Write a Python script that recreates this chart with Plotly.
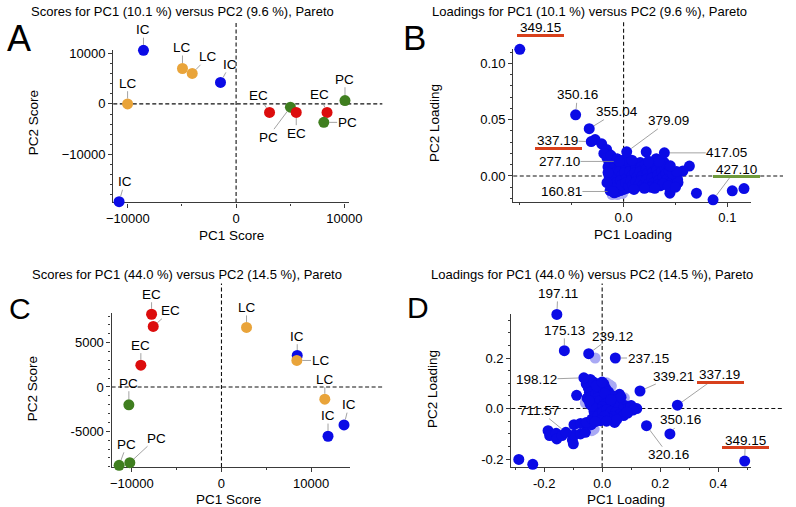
import plotly.graph_objects as go

W, H = 796, 507
FONT = "Liberation Sans, Arial, Helvetica, sans-serif"

# ---------------- data ----------------
group_colors = {"IC": "#0b0be6", "LC": "#e9a43a", "EC": "#dc0d0d", "PC": "#3f7e1f"}

# Panel A: scores PC1 (10.1 %) vs PC2 (9.6 %)
a_group = ["IC", "LC", "LC", "IC", "LC", "IC", "EC", "PC", "EC", "EC", "PC", "PC"]
a_x = [-8559, -4955, -4054, -1441, -10027, -10811, 3090, 5018, 5559, 8405, 8108, 10063]
a_y = [10619, 7021, 6037, 4267, 0, -19390, -1691, -649, -1691, -1691, -3658, 669]
a_xticks = [-10000, 0, 10000]
a_xticklabels = ["\u221210000", "0", "10000"]
a_yticks = [-10000, 0, 10000]
a_yticklabels = ["\u221210000", "0", "10000"]

# Panel C: scores PC1 (44.0 %) vs PC2 (14.5 %)
c_group = ["EC", "EC", "EC", "PC", "PC", "PC", "LC", "IC", "LC", "LC", "IC", "IC"]
c_x = [-7793, -7609, -8989, -10326, -11413, -10217, 2793, 8446, 8402, 11522, 13663, 11880]
c_y = [8199, 6823, 2461, -2013, -8837, -8535, 6711, 3546, 2987, -1376, -4284, -5559]
c_xticks = [-10000, 0, 10000]
c_xticklabels = ["\u221210000", "0", "10000"]
c_yticks = [-5000, 0, 5000]
c_yticklabels = ["-5000", "0", "5000"]

# Panel B: loadings PC1 (10.1 %) vs PC2 (9.6 %)
b_lab_text = ["349.15", "350.16", "355.04", "337.19", "379.09", "417.05", "427.10", "277.10", "160.81"]
b_lab_x = [-0.1000, -0.0462, -0.0331, -0.0312, 0.0030, 0.0393, 0.0862, -0.0042, -0.0102]
b_lab_y = [0.1125, 0.0543, 0.0420, 0.0305, 0.0214, 0.0205, -0.0212, 0.0129, -0.0138]
b_x = [-0.0274, -0.0211, -0.0164, -0.0133, -0.0190, -0.0110,
       0.0218, 0.0315, 0.0634, 0.0571, 0.0446, 0.0524, 0.0446, 0.0702, 0.1047, 0.1160,
       0.0352, 0.0399, 0.0289, 0.0352,
       -0.016, -0.014, -0.015, -0.013, -0.014, -0.013, -0.012, -0.011, -0.009, -0.006,
       -0.003, 0.000, 0.003, -0.010, -0.008, -0.009, -0.008, -0.009, -0.007, -0.007,
       -0.004, -0.003, -0.004, -0.002, -0.003, -0.002, 0.001, 0.002, 0.001, 0.003,
       0.002, 0.005, 0.006, 0.007, 0.006, 0.008, 0.007, 0.009, 0.011, 0.012,
       0.011, 0.013, 0.012, 0.014, 0.016, 0.017, 0.016, 0.018, 0.017, 0.019,
       0.021, 0.022, 0.023, 0.022, 0.024, 0.026, 0.027, 0.028, 0.027, 0.029,
       0.031, 0.032, 0.033, 0.034, 0.036, 0.037, 0.038, 0.040, 0.041, 0.042,
       0.044, 0.046, 0.049, 0.052, 0.033, 0.026, 0.038, -0.012, -0.006, 0.004,
       0.043, 0.047, 0.051, 0.039, 0.030, 0.020, 0.010, -0.015, -0.016, -0.013,
       0.045, 0.050, 0.034, 0.024, -0.006, 0.000, 0.008]
b_y = [0.0323, 0.0285, 0.0235, 0.0190, 0.0200, 0.0160,
       0.0214, 0.0153, 0.0088, 0.0044, 0.0073, -0.0059, -0.0153, -0.0153, -0.0132, -0.0112,
       0.0058, 0.0000, -0.0044, -0.0088,
       0.016, 0.012, 0.008, 0.004, 0.000, -0.004, -0.008, -0.012, -0.015, -0.014,
       -0.013, -0.012, -0.011, 0.014, 0.011, 0.007, 0.003, -0.002, -0.006, -0.010,
       0.012, 0.008, 0.004, 0.000, -0.004, -0.008, 0.011, 0.007, 0.003, -0.002,
       -0.006, -0.009, 0.012, 0.008, 0.004, 0.000, -0.004, -0.008, 0.011, 0.007,
       0.003, -0.001, -0.005, -0.009, 0.012, 0.008, 0.004, 0.000, -0.004, -0.008,
       0.010, 0.006, 0.002, -0.003, -0.007, 0.011, 0.007, 0.003, -0.002, -0.006,
       0.009, 0.005, 0.001, -0.004, 0.010, 0.004, -0.001, 0.007, 0.002, -0.003,
       0.004, -0.006, 0.001, -0.003, -0.008, -0.010, -0.007, 0.018, 0.015, 0.013,
       -0.009, 0.002, 0.004, 0.012, -0.011, -0.011, -0.012, 0.003, -0.006, -0.013,
       0.009, -0.010, 0.013, 0.013, 0.015, 0.014, 0.014]
b_light_x = [-0.011, -0.006, -0.001]
b_light_y = [-0.0165, -0.0165, -0.0155]
b_xticks = [0.0, 0.1]
b_xticklabels = ["0.0", "0.1"]
b_yticks = [0.0, 0.05, 0.10]
b_yticklabels = ["0.00", "0.05", "0.10"]

# Panel D: loadings PC1 (44.0 %) vs PC2 (14.5 %)
d_lab_text = ["197.11", "175.13", "239.12", "237.15", "198.12", "339.21", "337.19",
              "711.57", "350.16", "320.16", "349.15"]
d_lab_x = [-0.1563, -0.1304, -0.0464, 0.0454, -0.0632, 0.1304, 0.2595, -0.1250, 0.2336, 0.1529, 0.4914]
d_lab_y = [0.3725, 0.2290, 0.2173, 0.2000, 0.1216, 0.0694, 0.0133, -0.0940, -0.1004, -0.0678, -0.2078]
d_x = [-0.2874, -0.2393, -0.0409, -0.0881, 0.1193, 0.0880, 0.0598, 0.0430,
       -0.1866, -0.1810, -0.1587, -0.1565, -0.1386, -0.1027, -0.0994, -0.0971, -0.0748,
       -0.0580, -0.0580, -0.0971, -0.0748, -0.0378, -0.0545, -0.0353, -0.0128,
       -0.055, -0.048, -0.036, -0.028, -0.044, -0.052, -0.038, -0.022, -0.012, -0.004,
       0.006, 0.012, 0.022, 0.004, -0.016, -0.030, -0.042, -0.020, -0.008, 0.008,
       0.024, 0.038, 0.050, 0.064, 0.078, 0.092, 0.070, 0.055, 0.040, 0.026,
       0.012, 0.000, -0.012, -0.028, -0.016, 0.002, 0.016, 0.030, 0.046, 0.060,
       0.074, 0.036, 0.022, 0.050, 0.008, -0.006, -0.024, 0.100, 0.106,
       -0.030, -0.020, 0.000, 0.010, -0.035, 0.085, 0.065, 0.030, -0.045, 0.015]
d_y = [-0.2012, -0.2208, 0.1151, 0.0525, 0.0000, -0.0180, 0.0565, -0.0550,
       -0.0875, -0.1070, -0.0979, -0.1201, -0.1070, -0.1240, -0.1398, -0.1044, -0.1004,
       -0.0939, -0.0613, -0.0639, -0.0587, -0.0639, -0.0549, -0.0416, -0.0220,
       0.098, 0.082, 0.094, 0.078, 0.064, 0.041, 0.048, 0.058, 0.072, 0.088,
       0.097, 0.080, 0.066, 0.061, 0.042, 0.028, 0.018, 0.012, 0.030, 0.042,
       0.046, 0.050, 0.036, 0.022, 0.012, 0.004, -0.004, 0.006, 0.018, 0.024,
       0.018, 0.008, -0.004, -0.012, -0.030, -0.014, -0.004, -0.012, -0.016, -0.024,
       -0.028, -0.032, -0.040, -0.044, -0.030, -0.048, -0.052, 0.012, -0.006,
       0.105, 0.090, 0.105, 0.060, 0.010, -0.015, 0.045, 0.035, 0.030, -0.050]
d_light_x = [-0.0242, 0.0094, 0.0318, -0.0580, 0.0766, -0.0356, -0.0076, -0.0275, 0.0150, 0.0235]
d_light_y = [0.2000, 0.0824, 0.0889, 0.0229, 0.0425, -0.0875, 0.1008, -0.0810, 0.1020, 0.0955]
d_xticks = [-0.2, 0.0, 0.2, 0.4]
d_xticklabels = ["-0.2", "0.0", "0.2", "0.4"]
d_yticks = [-0.2, 0.0, 0.2]
d_yticklabels = ["-0.2", "0.0", "0.2"]

# highlighted labels (underline bars)
b_bars = {"349.15": "#d8401c", "337.19": "#d8401c", "427.10": "#6f9a3c"}
d_bars = {"337.19": "#d8401c", "349.15": "#d8401c"}

# ---------------- layout / style ----------------
# label offsets (pixels, text centre relative to point; +y is down)
a_off = [(0, -20.7), (0, -21), (16, -16.7), (9.7, -18), (0, -20.7), (5.7, -20),
         (-11, -16.7), (-22.4, 30), (0, 20.7), (-7.7, -17.7), (23.3, 0), (0, -21.3)]
c_off = [(0, -20), (17.7, -15.7), (0, -20), (0, -21.6), (7.7, -21), (26.3, -24.4),
         (0, -20), (0, -19.3), (23.7, 0), (0, -20), (5, -20.3), (0, -20.7)]
b_off = [(20.7, -21.7), (1.7, -20), (27.7, -17), (-33.6, -1), (42, -31), (62.4, 0),
         (23, -30.6), (-59.7, 0), (-51.6, 0)]
b_noleader = {"349.15"}
d_off = [(1, -21), (0, -20.3), (23.3, -17.3), (32.7, 0), (-47.4, 1.6), (34, -15),
         (42.3, -30.3), (-26.6, -21.7), (11, -14), (21.7, 29), (0.6, -20.7)]

# panel frames in pixels: (left, right, top, bottom)
frames = {
    "A": (109, 351, 46, 200),
    "B": (519.3, 762.7, 45, 199.3),
    "C": (107.3, 351.7, 311.8, 466.7),
    "D": (517.3, 762.7, 312, 466.7),
}
ranges = {
    "A": ([-11351, 10450], [-19528, 10760]),
    "B": ([-0.1063, 0.1223], [-0.0229, 0.1131]),
    "C": ([-12250, 14315], [-9027, 8300]),
    "D": ([-0.3133, 0.5116], [-0.2314, 0.3760]),
}
# dashed zero lines extents (pixels): horizontal right end, vertical top
zero_ext = {"A": (385, 17), "B": (796, 16), "C": (385, 281.7), "D": (796, 281.7)}
axis_ids = {"A": ("x", "y"), "B": ("x2", "y2"), "C": ("x3", "y3"), "D": ("x4", "y4")}

LINE = "#3a3a3a"
LEADER = "#8c8c8c"
MSIZE = 11


def px2paper_x(px):
    return px / W


def px2paper_y(py):
    return 1 - py / H


def axis(frame_key, letter, rng, tickvals, ticktext, minor_dtick, anchor):
    l, r, t, b = frames[frame_key]
    dom = [px2paper_x(l), px2paper_x(r)] if letter == "x" else [px2paper_y(b), px2paper_y(t)]
    return dict(domain=dom, range=rng, tickvals=tickvals, ticktext=ticktext,
                ticks="outside", ticklen=4, tickwidth=1, tickcolor=LINE,
                showline=True, linecolor=LINE, linewidth=1.3, showgrid=False,
                zeroline=False, anchor=anchor, layer="below traces",
                tickfont=dict(size=13, color="black", family=FONT),
                minor=dict(dtick=minor_dtick, tick0=0, ticks="outside", ticklen=2,
                           tickcolor=LINE, showgrid=False))


fig = go.Figure()

# score traces
fig.add_trace(go.Scatter(x=a_x, y=a_y, mode="markers", xaxis="x", yaxis="y", cliponaxis=False,
                         marker=dict(size=MSIZE, color=[group_colors[g] for g in a_group], line=dict(width=0)),
                         hoverinfo="skip"))
fig.add_trace(go.Scatter(x=c_x, y=c_y, mode="markers", xaxis="x3", yaxis="y3", cliponaxis=False,
                         marker=dict(size=MSIZE, color=[group_colors[g] for g in c_group], line=dict(width=0)),
                         hoverinfo="skip"))
# loading traces
fig.add_trace(go.Scatter(x=b_light_x, y=b_light_y, mode="markers", xaxis="x2", yaxis="y2", cliponaxis=False,
                         marker=dict(size=MSIZE, color="#a9a9f4", line=dict(width=0)), hoverinfo="skip"))
fig.add_trace(go.Scatter(x=b_x + b_lab_x, y=b_y + b_lab_y, mode="markers", xaxis="x2", yaxis="y2",
                         cliponaxis=False, marker=dict(size=MSIZE, color="#0b0be6", line=dict(width=0)),
                         hoverinfo="skip"))
fig.add_trace(go.Scatter(x=d_light_x, y=d_light_y, mode="markers", xaxis="x4", yaxis="y4", cliponaxis=False,
                         marker=dict(size=MSIZE, color="#a9a9f4", line=dict(width=0)), hoverinfo="skip"))
fig.add_trace(go.Scatter(x=d_x + d_lab_x, y=d_y + d_lab_y, mode="markers", xaxis="x4", yaxis="y4",
                         cliponaxis=False, marker=dict(size=MSIZE, color="#0b0be6", line=dict(width=0)),
                         hoverinfo="skip"))

annotations = []
shapes = []


def add_labels(xs, ys, texts, offs, key, noleader=(), bars=None):
    xa, ya = axis_ids[key]
    for x, y, t, (dx, dy) in zip(xs, ys, texts, offs):
        annotations.append(dict(x=x, y=y, xref=xa, yref=ya, text=t, showarrow=True, arrowhead=0,
                                arrowwidth=0.8,
                                arrowcolor="rgba(0,0,0,0)" if t in noleader else LEADER,
                                standoff=5.5, ax=dx, ay=dy, borderpad=0,
                                font=dict(size=13.5, color="black", family=FONT)))
        if bars and t in bars:
            annotations.append(dict(x=x, y=y, xref=xa, yref=ya, text="\u00a0", showarrow=False,
                                    xshift=dx + 0.5, yshift=-(dy + 7.5), width=47, height=3,
                                    bgcolor=bars[t], borderpad=0, borderwidth=0,
                                    font=dict(size=2)))


add_labels(a_x, a_y, a_group, a_off, "A")
add_labels(c_x, c_y, c_group, c_off, "C")
add_labels(b_lab_x, b_lab_y, b_lab_text, b_off, "B", noleader=b_noleader, bars=b_bars)
add_labels(d_lab_x, d_lab_y, d_lab_text, d_off, "D", bars=d_bars)

# dashed zero lines
for key in "ABCD":
    l, r, t, b = frames[key]
    (x0, x1), (y0, y1) = ranges[key]
    xa, ya = axis_ids[key]
    fx = (0 - x0) / (x1 - x0)
    fy = (0 - y0) / (y1 - y0)
    hx, vt = zero_ext[key]
    dash = dict(color="#111111", width=1.1, dash="4px,2.5px")
    shapes.append(dict(type="line", xref=xa + " domain", yref=ya + " domain",
                       x0=0, x1=(hx - l) / (r - l), y0=fy, y1=fy, line=dash, layer="below"))
    shapes.append(dict(type="line", xref=xa + " domain", yref=ya + " domain",
                       x0=fx, x1=fx, y0=0, y1=(b - vt) / (b - t), line=dash, layer="below"))

# titles, panel letters, axis titles
texts = [
    ("Scores for PC1 (10.1 %) versus PC2 (9.6 %), Pareto", 180, 8, 13, 0),
    ("Loadings for PC1 (10.1 %) versus PC2 (9.6 %), Pareto", 597, 8, 13, 0),
    ("Scores for PC1 (44.0 %) versus PC2 (14.5 %), Pareto", 185, 273, 13, 0),
    ("Loadings for PC1 (44.0 %) versus PC2 (14.5 %), Pareto", 600, 273, 13, 0),
    ("PC1 Score", 230, 233, 13.5, 0),
    ("PC2 Score", 27, 120, 13.5, -90),
    ("PC1 Loading", 642, 232, 13.5, 0),
    ("PC2 Loading", 438, 120, 13.5, -90),
    ("PC1 Score", 227, 499, 13.5, 0),
    ("PC2 Score", 27, 388, 13.5, -90),
    ("PC1 Loading", 635, 499, 13.5, 0),
    ("PC2 Loading", 437, 388, 13.5, -90),
]
for t, px, py, size, ang in texts:
    annotations.append(dict(x=px2paper_x(px), y=px2paper_y(py), xref="paper", yref="paper", text=t,
                            showarrow=False, xanchor="center", yanchor="middle", textangle=ang,
                            font=dict(size=size, color="black", family=FONT)))
letters = [("A", 12.5, 35, 36), ("B", 418.5, 34, 35), ("C", 13.5, 306.5, 30), ("D", 421.5, 306, 30)]
for t, px, py, size in letters:
    annotations.append(dict(x=px2paper_x(px), y=px2paper_y(py), xref="paper", yref="paper", text=t,
                            showarrow=False, xanchor="center", yanchor="middle",
                            font=dict(size=size, color="black", family=FONT)))

fig.update_layout(
    width=W, height=H, margin=dict(l=0, r=0, t=0, b=0),
    paper_bgcolor="white", plot_bgcolor="rgba(0,0,0,0)", showlegend=False,
    font=dict(family=FONT, size=13, color="black"),
    xaxis=axis("A", "x", ranges["A"][0], a_xticks, a_xticklabels, 5000, "y"),
    yaxis=axis("A", "y", ranges["A"][1], a_yticks, a_yticklabels, 2000, "x"),
    xaxis2=axis("B", "x", ranges["B"][0], b_xticks, b_xticklabels, 0.05, "y2"),
    yaxis2=axis("B", "y", ranges["B"][1], b_yticks, b_yticklabels, 0.01, "x2"),
    xaxis3=axis("C", "x", ranges["C"][0], c_xticks, c_xticklabels, 5000, "y3"),
    yaxis3=axis("C", "y", ranges["C"][1], c_yticks, c_yticklabels, 1000, "x3"),
    xaxis4=axis("D", "x", ranges["D"][0], d_xticks, d_xticklabels, 0.1, "y4"),
    yaxis4=axis("D", "y", ranges["D"][1], d_yticks, d_yticklabels, 0.05, "x4"),
    annotations=annotations, shapes=shapes,
)

fig.write_html("out.html", config={"displayModeBar": False},
               post_script="document.body.style.margin='0';")
